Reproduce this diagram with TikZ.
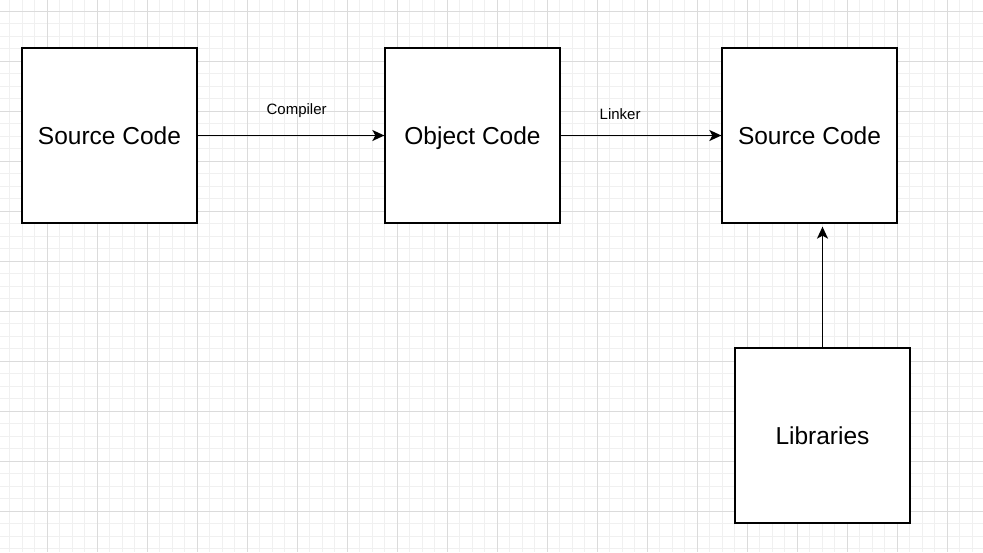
\documentclass[tikz,border=0pt]{standalone}
\usepackage{fontspec}
\setmainfont{Liberation Sans}
\usetikzlibrary{arrows.meta,positioning}

\begin{document}
\begin{tikzpicture}[
  x=1pt, y=-1pt,
  box/.style={
     rectangle, draw=black, line width=1.3pt,
     fill=white,
     minimum width=175pt, minimum height=175pt,
     inner sep=0pt, text height=17.6pt, text depth=0pt,
     font=\fontsize{24.5}{29}\selectfont},
  link/.style={-{Stealth[length=12pt,width=11pt,inset=3pt]}, draw=black, line width=1.4pt},
  lbl/.style={font=\fontsize{15}{18}\selectfont, inner sep=0pt},
  minorgrid/.style={draw=black!6, line width=0.8pt},
  majorgrid/.style={draw=black!14, line width=0.8pt},
  node distance=186.7pt]
\useasboundingbox (0,0) rectangle (983,552);
% grid
\foreach \gx in {-3,9.5,...,990} \draw[minorgrid] (\gx,0) -- (\gx,552);
\foreach \gy in {-1.5,11,...,560} \draw[minorgrid] (0,\gy) -- (983,\gy);
\foreach \gx in {-3,47,...,990} \draw[majorgrid] (\gx,0) -- (\gx,552);
\foreach \gy in {11,61,...,560} \draw[majorgrid] (0,\gy) -- (983,\gy);
% top row
\node[box] (src) at (109.5,135.5) {Source Code};
\node[box,right=of src] (obj) {Object Code};
\node[box,right=160.7pt of obj] (exe) {Source Code};
% libraries
\node[box,below=123.7pt of exe,xshift=13pt] (lib) {Libraries};
% arrows
\draw[link] (src.east) -- node[lbl,pos=0.53,above=17pt] {Compiler} (obj.west);
\draw[link] (obj.east) -- node[lbl,pos=0.37,above=15pt] {Linker} (exe.west);
\draw[link,shorten >=3pt] (lib.north) -- (lib.north |- exe.south);
\end{tikzpicture}
\end{document}
